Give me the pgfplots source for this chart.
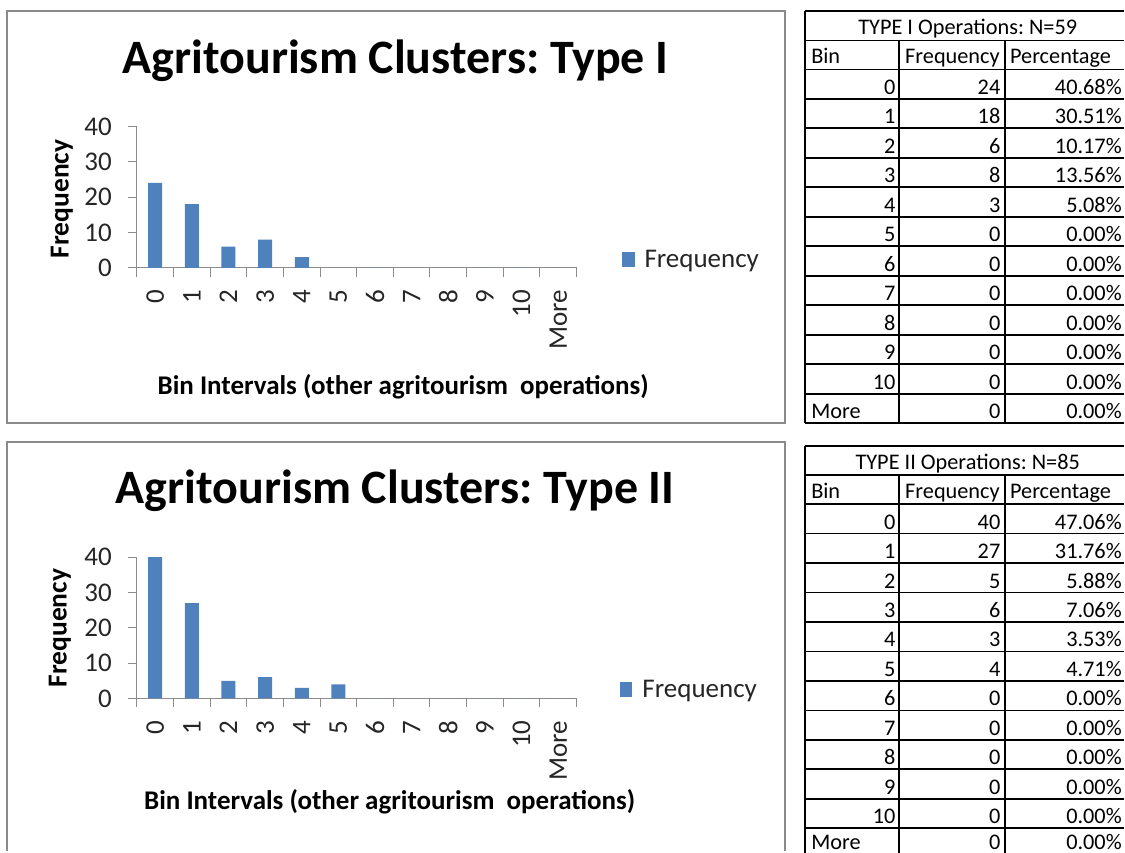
\documentclass[border=0pt]{standalone}
\usepackage{pgfplots}
\pgfplotsset{compat=1.18}
\usepackage{fontspec}
\setmainfont{Carlito}
\frenchspacing
\definecolor{barblue}{HTML}{4F81BD}
\definecolor{framegray}{HTML}{8A8A8A}
\definecolor{axgray}{HTML}{8C8C8C}
\definecolor{labgray}{HTML}{262626}
\newcommand{\tickfont}{\fontsize{27}{32}\selectfont}
\newcommand{\tabfont}{\fontsize{22.3}{26}\selectfont}
\pgfplotsset{
  histo/.style={
    scale only axis, width=440pt, height=141.5pt, anchor=south west,
    xmin=-0.5, xmax=11.5, ymin=0, ymax=40,
    axis x line=bottom, axis y line=left,
    axis line style={-, draw=axgray, line width=1pt},
    tick align=outside, major tick length=9pt,
    tick style={draw=axgray, line width=1pt},
    ytick={0,10,20,30,40},
    xtick={-0.5,0.5,1.5,2.5,3.5,4.5,5.5,6.5,7.5,8.5,9.5,10.5,11.5},
    xticklabels={0,1,2,3,4,5,6,7,8,9,10,More,{}},
    /pgf/number format/assume math mode=true,
    tick label style={font=\tickfont, text=labgray},
    yticklabel style={anchor=east, inner sep=0pt, xshift=-16pt},
    xticklabel style={xshift=18.33pt, yshift=-13pt, rotate=90, anchor=east, inner sep=0pt},
    title style={font=\fontsize{48}{56}\selectfont\bfseries, anchor=base, inner sep=0pt, yshift=0pt},
    xlabel style={font=\fontsize{27}{32}\selectfont\bfseries, anchor=base, inner sep=0pt},
    ylabel style={font=\fontsize{27.5}{32}\selectfont\bfseries, anchor=center, inner sep=0pt},
    legend style={draw=none, fill=none, anchor=west, inner sep=0pt, outer sep=0pt, font=\tickfont,
       text=labgray, nodes={inner sep=0pt}, /tikz/every odd column/.append style={column sep=10pt}},
    ybar, bar width=14pt, clip=false,
  },
}
% #1 top (px), #2 title, #3 rows, #4 extra lift of the last row text (px)
\newcommand{\drawtable}[4]{%
  \begin{scope}[x=1pt,y=-1pt,yshift=852pt, line width=1.8pt, font=\tabfont]
    \draw (806,#1) -- (1125,#1);
    \draw (806,{#1+29.5}) -- (1125,{#1+29.5});
    \foreach \k in {0,...,12} {\draw (806,{#1+58.5+29.5*\k}) -- (1125,{#1+58.5+29.5*\k});}
    \draw (806,#1) -- (806,{#1+58.5+29.5*12});
    \draw (900,{#1+29.5}) -- (900,{#1+58.5+29.5*12});
    \draw (1006,{#1+29.5}) -- (1006,{#1+58.5+29.5*12});
    \node[anchor=base, inner sep=0pt] at (968.5,{#1+24}) {#2};
    \node[anchor=base west, inner sep=0pt] at (811,{#1+53}) {Bin};
    \node[anchor=base west, inner sep=0pt] at (905,{#1+53}) {Frequency};
    \node[anchor=base west, inner sep=0pt] at (1010,{#1+53}) {Percentage};
    \foreach \bb/\ff/\pp [count=\ii from 1] in {#3} {
      \node[anchor=base east, inner sep=0pt] at (897,{#1+58.5+29.5*\ii-4.5}) {\bb};
      \node[anchor=base east, inner sep=0pt] at (1002,{#1+58.5+29.5*\ii-4.5}) {\ff};
      \node[anchor=base east, inner sep=0pt] at (1123.5,{#1+58.5+29.5*\ii-4.5}) {\pp};
    }
    \node[anchor=base west, inner sep=0pt] at (811,{#1+58.5+29.5*12-4.5-#4}) {More};
    \node[anchor=base east, inner sep=0pt] at (1002,{#1+58.5+29.5*12-4.5-#4}) {0};
    \node[anchor=base east, inner sep=0pt] at (1123.5,{#1+58.5+29.5*12-4.5-#4}) {0.00\%};
  \end{scope}
}
\begin{document}
\begin{tikzpicture}
\fill[white] (0pt,0pt) rectangle (1125pt,852pt);
% chart frames
\draw[framegray, line width=2pt] (7pt,841pt) rectangle (786pt,429pt);
\draw[framegray, line width=2pt] (7pt,0pt) -- (7pt,410pt) -- (786pt,410pt) -- (786pt,0pt);

\begin{axis}[histo, at={(137pt,584pt)},
  title={Agritourism Clusters: Type I},
  title style={at={(axis description cs:0.5886,1.3286)}},
  xlabel={Bin Intervals (other agritourism\ \ operations)},
  xlabel style={at={(axis description cs:0.6057,-0.8975)}},
  ylabel={Frequency},
  ylabel style={at={(axis description cs:-0.1705,0.4876)}},
  legend style={at={(axis description cs:1.1023,0.06)}},
]
\addplot[fill=barblue, draw=none,
  legend image code/.code={\fill[barblue] (0pt,-7.5pt) rectangle (13pt,7.5pt);}]
  coordinates {(0,24) (1,18) (2,6) (3,8) (4,3) (5,0) (6,0) (7,0) (8,0) (9,0) (10,0) (11,0)};
\addlegendentry{Frequency}
\end{axis}

\begin{axis}[histo, at={(137pt,153pt)},
  title={Agritourism Clusters: Type II},
  title style={at={(axis description cs:0.5875,1.3357)}},
  xlabel={Bin Intervals (other agritourism\ \ operations)},
  xlabel style={at={(axis description cs:0.575,-0.7845)}},
  ylabel={Frequency},
  ylabel style={at={(axis description cs:-0.175,0.498)}},
  legend style={at={(axis description cs:1.0977,0.06)}},
]
\addplot[fill=barblue, draw=none,
  legend image code/.code={\fill[barblue] (0pt,-7.5pt) rectangle (13pt,7.5pt);}]
  coordinates {(0,40) (1,27) (2,5) (3,6) (4,3) (5,4) (6,0) (7,0) (8,0) (9,0) (10,0) (11,0)};
\addlegendentry{Frequency}
\end{axis}

\drawtable{11}{TYPE I Operations: N=59}{0/24/40.68\%, 1/18/30.51\%, 2/6/10.17\%, 3/8/13.56\%, 4/3/5.08\%, 5/0/0.00\%, 6/0/0.00\%, 7/0/0.00\%, 8/0/0.00\%, 9/0/0.00\%, 10/0/0.00\%}{0}
\begin{scope}[overlay]
\drawtable{446}{TYPE II Operations: N=85}{0/40/47.06\%, 1/27/31.76\%, 2/5/5.88\%, 3/6/7.06\%, 4/3/3.53\%, 5/4/4.71\%, 6/0/0.00\%, 7/0/0.00\%, 8/0/0.00\%, 9/0/0.00\%, 10/0/0.00\%}{3.5}
\end{scope}
\end{tikzpicture}
\end{document}
